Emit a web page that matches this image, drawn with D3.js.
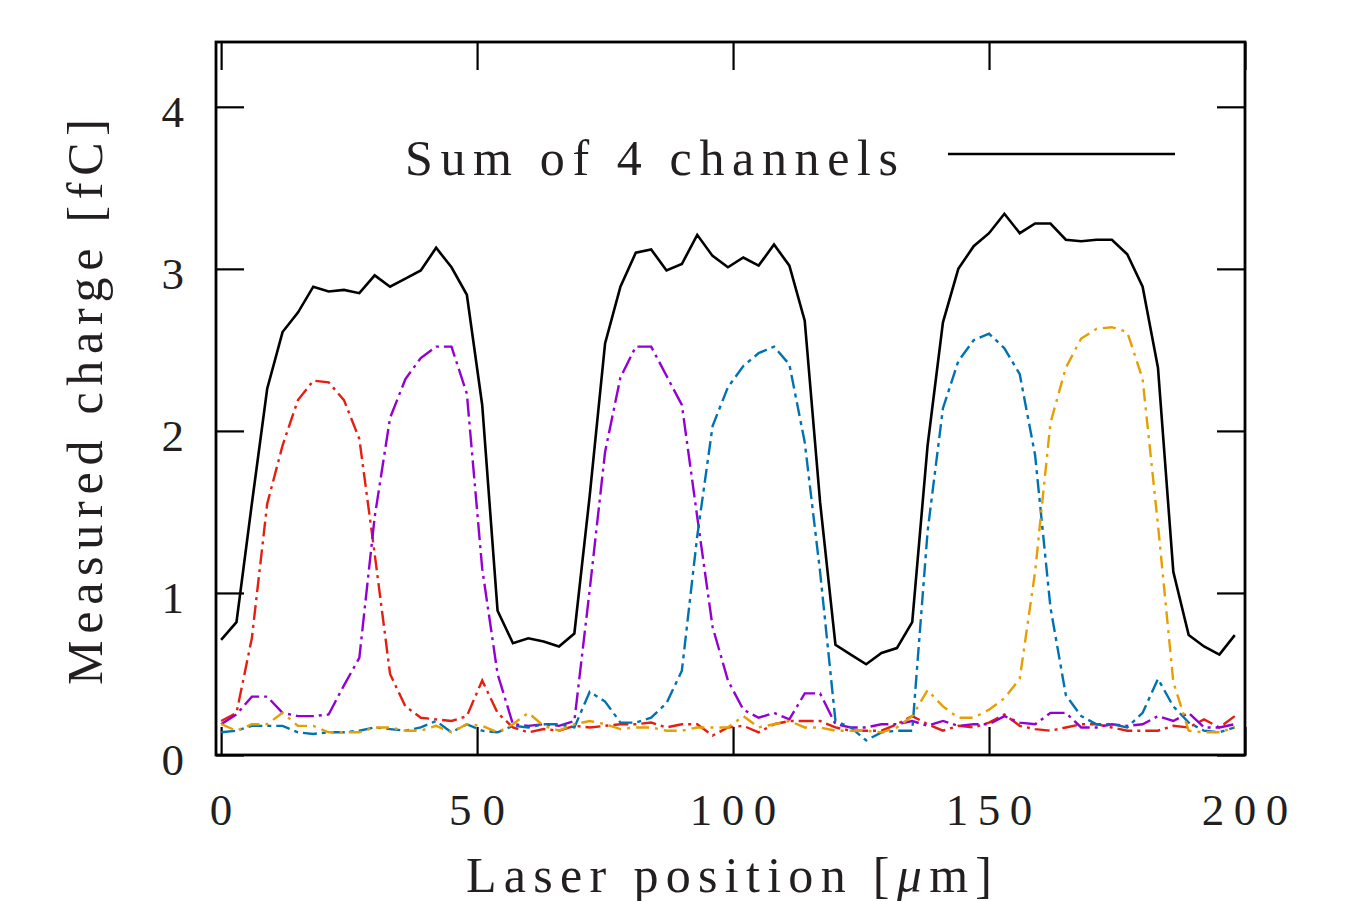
<!DOCTYPE html>
<html lang="en">

<head>
  <meta charset="UTF-8">
  <script src="https://d3js.org/d3.v7.min.js"></script>
  <style>
    body {
      margin: 0;
      padding: 0;
      background: #fff;
      overflow: hidden;
    }

    text {
      font-family: "Liberation Serif", "DejaVu Serif", serif;
      fill: #231f20;
    }
  </style>
</head>

<body>
  <script>
    // laser scan positions [um]
    const positions = [
      0, 3, 6, 9, 12, 15, 18, 21, 24, 27,
      30, 33, 36, 39, 42, 45, 48, 51, 54, 57,
      60, 63, 66, 69, 72, 75, 78, 81, 84, 87,
      90, 93, 96, 99, 102, 105, 108, 111, 114, 117,
      120, 123, 126, 129, 132, 135, 138, 141, 144, 147,
      150, 153, 156, 159, 162, 165, 168, 171, 174, 177,
      180, 183, 186, 189, 192, 195, 198
    ];

    // measured charge [fC]
    const sumCharge = [
      0.71, 0.82, 1.55, 2.26, 2.61, 2.73, 2.89, 2.86, 2.87, 2.85,
      2.96, 2.89, 2.94, 2.99, 3.13, 3.01, 2.84, 2.16, 0.89, 0.69,
      0.72, 0.70, 0.67, 0.75, 1.60, 2.54, 2.89, 3.10, 3.12, 2.99,
      3.03, 3.21, 3.08, 3.01, 3.07, 3.02, 3.15, 3.02, 2.68, 1.56,
      0.68, 0.62, 0.56, 0.63, 0.66, 0.82, 1.91, 2.67, 3.00, 3.14,
      3.22, 3.34, 3.22, 3.28, 3.28, 3.18, 3.17, 3.18, 3.18, 3.09,
      2.89, 2.39, 1.13, 0.74, 0.67, 0.62, 0.74
    ];

    const channel1 = [
      0.21, 0.26, 0.72, 1.55, 1.91, 2.19, 2.31, 2.30, 2.19, 1.95,
      1.24, 0.50, 0.30, 0.23, 0.22, 0.21, 0.24, 0.46, 0.26, 0.17,
      0.14, 0.16, 0.15, 0.18, 0.17, 0.18, 0.19, 0.19, 0.20, 0.17,
      0.19, 0.19, 0.12, 0.17, 0.18, 0.14, 0.19, 0.21, 0.21, 0.21,
      0.17, 0.15, 0.15, 0.15, 0.19, 0.24, 0.19, 0.15, 0.18, 0.17,
      0.20, 0.25, 0.18, 0.16, 0.15, 0.17, 0.19, 0.19, 0.17, 0.15,
      0.15, 0.15, 0.18, 0.17, 0.22, 0.17, 0.24
    ];

    const channel2 = [
      0.19, 0.25, 0.36, 0.36, 0.26, 0.24, 0.24, 0.25, 0.43, 0.60,
      1.47, 2.08, 2.32, 2.45, 2.52, 2.52, 2.23, 1.15, 0.50, 0.19,
      0.18, 0.19, 0.18, 0.21, 1.02, 1.87, 2.33, 2.52, 2.52, 2.34,
      2.16, 1.47, 0.79, 0.46, 0.28, 0.23, 0.26, 0.22, 0.38, 0.38,
      0.19, 0.17, 0.17, 0.19, 0.19, 0.21, 0.18, 0.21, 0.18, 0.19,
      0.19, 0.24, 0.20, 0.19, 0.26, 0.26, 0.17, 0.17, 0.19, 0.18,
      0.19, 0.24, 0.21, 0.26, 0.17, 0.17, 0.19
    ];

    const channel3 = [
      0.14, 0.15, 0.18, 0.18, 0.18, 0.14, 0.13, 0.14, 0.14, 0.15,
      0.17, 0.16, 0.15, 0.17, 0.21, 0.14, 0.19, 0.15, 0.14, 0.18,
      0.17, 0.19, 0.19, 0.17, 0.39, 0.33, 0.20, 0.20, 0.23, 0.32,
      0.52, 1.35, 2.03, 2.27, 2.40, 2.48, 2.52, 2.41, 1.93, 1.13,
      0.21, 0.17, 0.09, 0.14, 0.15, 0.15, 1.38, 2.14, 2.43, 2.56,
      2.60, 2.51, 2.35, 1.85, 0.91, 0.37, 0.24, 0.19, 0.19, 0.17,
      0.26, 0.47, 0.30, 0.20, 0.15, 0.14, 0.17
    ];

    const channel4 = [
      0.19, 0.15, 0.19, 0.19, 0.26, 0.18, 0.18, 0.14, 0.14, 0.14,
      0.17, 0.17, 0.15, 0.15, 0.18, 0.14, 0.19, 0.18, 0.14, 0.19,
      0.26, 0.18, 0.15, 0.19, 0.21, 0.19, 0.16, 0.17, 0.17, 0.15,
      0.15, 0.17, 0.17, 0.17, 0.24, 0.17, 0.19, 0.21, 0.17, 0.17,
      0.15, 0.15, 0.15, 0.14, 0.17, 0.24, 0.40, 0.30, 0.23, 0.23,
      0.28, 0.35, 0.47, 1.13, 2.05, 2.39, 2.57, 2.63, 2.64, 2.61,
      2.32, 1.42, 0.45, 0.15, 0.14, 0.14, 0.17
    ];

    const xTicks = [0, 50, 100, 150, 200];
    const yTicks = [0, 1, 2, 3, 4];

    // channel lines (gnuplot colours), sum drawn solid black
    const series = [
      { values: channel1, color: '#e51e10', dash: '15,5,3,5' },
      { values: channel2, color: '#9400d3', dash: '18,5,3,5' },
      { values: channel3, color: '#0072b2', dash: '14,5,4,5' },
      { values: channel4, color: '#e69f00', dash: '13,6,3,6' }
    ];

    const width = 1349, height = 901;
    const box = { left: 216, right: 1245, top: 42, bottom: 755 };
    const tickLen = 28;

    const svg = d3.select('body').append('svg')
      .attr('width', width)
      .attr('height', height);

    const x = d3.scaleLinear().domain([-1, 200]).range([box.left, box.right]);
    const y = d3.scaleLinear().domain([0, 4.4]).range([box.bottom, box.top]);

    svg.append('clipPath').attr('id', 'plot-clip')
      .append('rect')
      .attr('x', box.left).attr('y', box.top)
      .attr('width', box.right - box.left).attr('height', box.bottom - box.top);

    // inward ticks on all four sides, no labels from the axis itself
    const axes = svg.append('g');
    axes.append('g')
      .attr('transform', `translate(0,${box.bottom})`)
      .call(d3.axisBottom(x).tickValues(xTicks).tickSize(-tickLen).tickFormat(''));
    axes.append('g')
      .attr('transform', `translate(0,${box.top})`)
      .call(d3.axisTop(x).tickValues(xTicks).tickSize(-tickLen).tickFormat(''));
    axes.append('g')
      .attr('transform', `translate(${box.left},0)`)
      .call(d3.axisLeft(y).tickValues(yTicks).tickSize(-tickLen).tickFormat(''));
    axes.append('g')
      .attr('transform', `translate(${box.right},0)`)
      .call(d3.axisRight(y).tickValues(yTicks).tickSize(-tickLen).tickFormat(''));
    axes.selectAll('.domain').remove();
    axes.selectAll('.tick line').attr('stroke', '#000').attr('stroke-width', 2.2);

    const line = d3.line()
      .x((d, i) => x(positions[i]))
      .y(d => y(d));

    const plot = svg.append('g').attr('clip-path', 'url(#plot-clip)');

    plot.selectAll('path.channel')
      .data(series)
      .enter().append('path')
      .attr('class', 'channel')
      .attr('d', d => line(d.values))
      .attr('fill', 'none')
      .attr('stroke', d => d.color)
      .attr('stroke-width', 2.4)
      .attr('stroke-dasharray', d => d.dash);

    plot.append('path')
      .attr('d', line(sumCharge))
      .attr('fill', 'none')
      .attr('stroke', '#000')
      .attr('stroke-width', 2.6)
      .attr('stroke-linejoin', 'miter');

    // frame
    svg.append('rect')
      .attr('x', box.left).attr('y', box.top)
      .attr('width', box.right - box.left).attr('height', box.bottom - box.top)
      .attr('fill', 'none')
      .attr('stroke', '#000')
      .attr('stroke-width', 2.8);

    // tick labels, spaced like the original latex output
    const digitStep = 30.5;
    svg.append('g').selectAll('text')
      .data(xTicks)
      .enter().append('text')
      .attr('x', d => x(d))
      .attr('y', 825)
      .attr('text-anchor', 'middle')
      .style('font-size', '45px')
      .attr('textLength', d => String(d).length > 1 ? String(d).length * digitStep - 5 : null)
      .attr('lengthAdjust', 'spacing')
      .text(d => d);

    svg.append('g').selectAll('text')
      .data(yTicks)
      .enter().append('text')
      .attr('x', 184)
      .attr('y', d => y(d) + 20)
      .attr('text-anchor', 'end')
      .style('font-size', '45px')
      .text(d => d);

    // axis titles
    const xTitle = svg.append('text')
      .attr('x', 729)
      .attr('y', 892)
      .attr('text-anchor', 'middle')
      .style('font-size', '50px')
      .attr('textLength', 526)
      .attr('lengthAdjust', 'spacing');
    xTitle.append('tspan').text('Laser position [');
    xTitle.append('tspan').style('font-style', 'italic').text('\u03bc');
    xTitle.append('tspan').text('m]');

    svg.append('text')
      .attr('transform', 'translate(102,402) rotate(-90)')
      .attr('text-anchor', 'middle')
      .style('font-size', '50px')
      .attr('textLength', 566)
      .attr('lengthAdjust', 'spacing')
      .text('Measured charge [fC]');

    // legend
    svg.append('text')
      .attr('x', 405)
      .attr('y', 175)
      .style('font-size', '50px')
      .attr('textLength', 493)
      .attr('lengthAdjust', 'spacing')
      .text('Sum of 4 channels');

    svg.append('line')
      .attr('x1', 948).attr('x2', 1175)
      .attr('y1', 154).attr('y2', 154)
      .attr('stroke', '#000')
      .attr('stroke-width', 2.6);
  </script>
</body>

</html>
